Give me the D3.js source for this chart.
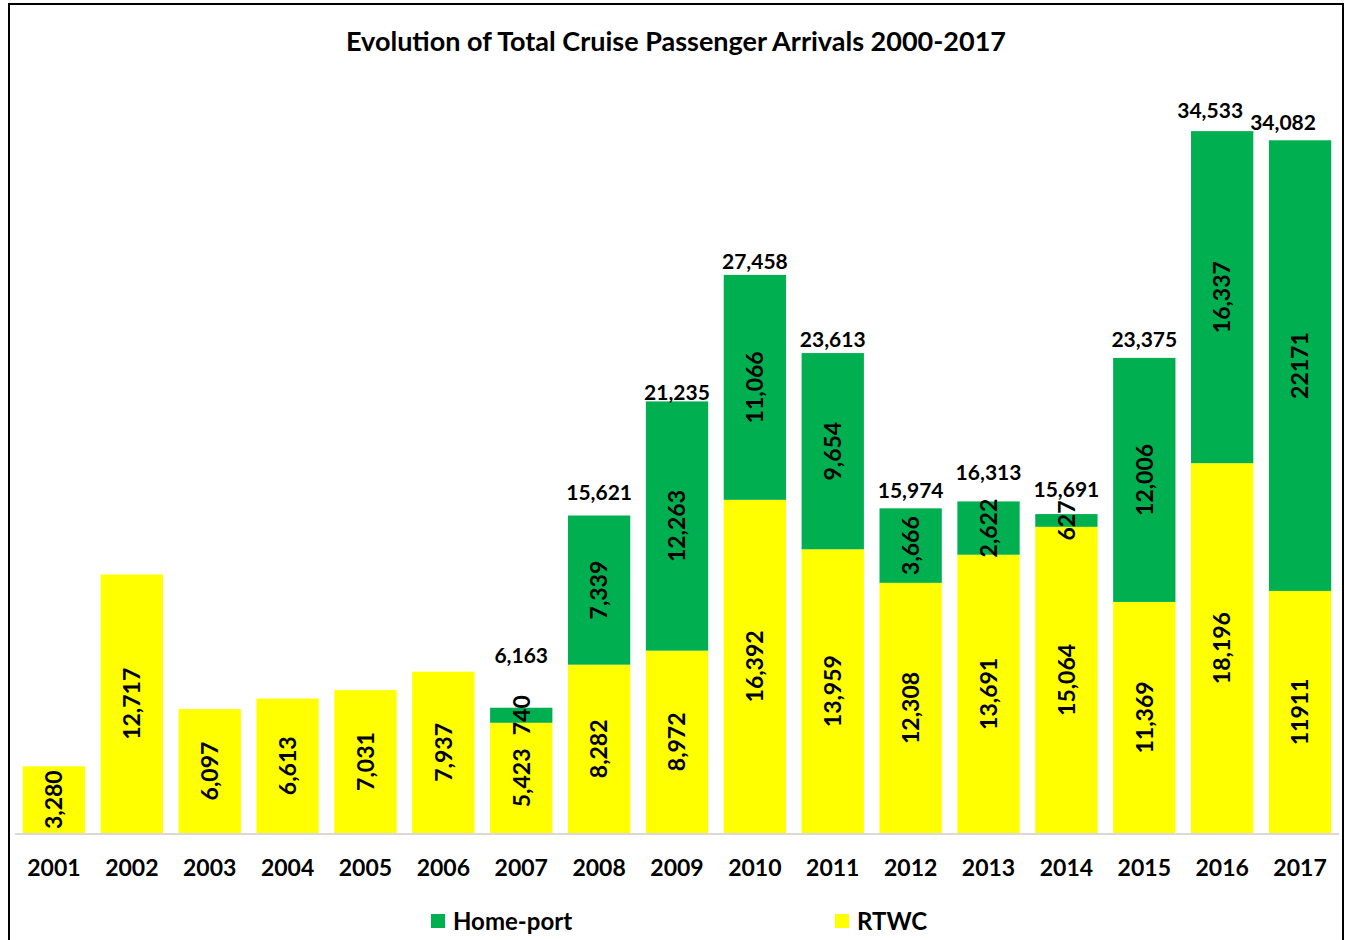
<!DOCTYPE html>
<html>
<head>
<meta charset="utf-8">
<script src="https://cdn.jsdelivr.net/npm/d3@7.9.0/dist/d3.min.js"></script>
<style>
  html, body { margin: 0; padding: 0; background: #fff; }
  svg text { font-family: Lato, "Open Sans", sans-serif; font-weight: bold; fill: #000; }
</style>
</head>
<body>
<svg id="chart" width="1349" height="940"></svg>
<script>
const years = ['2001', '2002', '2003', '2004', '2005', '2006', '2007', '2008', '2009',
  '2010', '2011', '2012', '2013', '2014', '2015', '2016', '2017'];
const rtwc = [3280, 12717, 6097, 6613, 7031, 7937, 5423, 8282, 8972,
  16392, 13959, 12308, 13691, 15064, 11369, 18196, 11911];
const homePort = [0, 0, 0, 0, 0, 0, 740, 7339, 12263,
  11066, 9654, 3666, 2622, 627, 12006, 16337, 22171];
const seriesNames = ['Home-port', 'RTWC'];
// the last year's labels have no thousands separator in the original
const plainYears = ['2017'];

const GREEN = '#00b050';
const YELLOW = '#ffff00';

const svg = d3.select('#chart');
svg.append('rect').attr('width', 1349).attr('height', 940).attr('fill', '#fff');

// outer frame
svg.append('path')
  .attr('d', 'M9,945 V4 H1343 V945')
  .attr('fill', 'none').attr('stroke', '#000').attr('stroke-width', 2);

svg.append('text')
  .attr('x', 676).attr('y', 51)
  .attr('text-anchor', 'middle')
  .style('font-size', '27px')
  .text('Evolution of Total Cruise Passenger Arrivals 2000-2017');

const x = d3.scaleBand().domain(years).range([15, 1339]).paddingInner(0.2).paddingOuter(0.1);
const y = d3.scaleLinear().domain([0, 40000]).range([833, 20]);

const rows = years.map((yr, i) => ({ year: yr, rtwc: rtwc[i], home: homePort[i] }));
const stack = d3.stack().keys(['rtwc', 'home'])(rows);
const colors = { rtwc: YELLOW, home: GREEN };

const fmt = (yr, v) => plainYears.includes(yr) ? String(v) : d3.format(',')(v);

stack.forEach(layer => {
  const g = svg.append('g');
  g.selectAll('rect')
    .data(layer.filter(d => d[1] > d[0]))
    .join('rect')
    .attr('x', d => x(d.data.year))
    .attr('width', x.bandwidth())
    .attr('y', d => y(d[1]))
    .attr('height', d => y(d[0]) - y(d[1]))
    .attr('fill', colors[layer.key]);
});

// axis baseline
svg.append('line')
  .attr('x1', 15).attr('x2', 1339)
  .attr('y1', y(0) + 1).attr('y2', y(0) + 1)
  .attr('stroke', '#d9d9d9').attr('stroke-width', 2);

const xAxis = svg.append('g')
  .attr('transform', `translate(0,${y(0)})`)
  .call(d3.axisBottom(x).tickSize(0).tickPadding(27));
xAxis.select('.domain').remove();
xAxis.selectAll('text')
  .style('font-size', '23px')
  .style('font-family', 'Lato, sans-serif')
  .attr('fill', '#000');

// segment labels, rotated
stack.forEach(layer => {
  svg.append('g').selectAll('text')
    .data(layer.filter(d => d[1] > d[0]))
    .join('text')
    .attr('transform', d => {
      const cx = x(d.data.year) + x.bandwidth() / 2;
      const cy = (y(d[0]) + y(d[1])) / 2;
      return `translate(${cx},${cy}) rotate(-90)`;
    })
    .attr('text-anchor', 'middle')
    .attr('dy', '0.36em')
    .style('font-size', '23px')
    .text(d => fmt(d.data.year, d[1] - d[0]));
});

// totals above stacked bars (manually nudged in the original)
const totalNudge = { '2007': [0, -34], '2008': [0, -5], '2009': [0, 9], '2010': [0, 5],
  '2011': [0, 4], '2013': [0, -11], '2014': [0, -7], '2016': [-12, -3], '2017': [-17, 0] };
svg.append('g').selectAll('text')
  .data(rows.filter(d => d.home > 0))
  .join('text')
  .attr('x', d => x(d.year) + x.bandwidth() / 2 + (totalNudge[d.year] || [0, 0])[0])
  .attr('y', d => y(d.rtwc + d.home) - 18 + (totalNudge[d.year] || [0, 0])[1])
  .attr('text-anchor', 'middle')
  .attr('dy', '0.36em')
  .style('font-size', '21px')
  .text(d => d3.format(',')(d.rtwc + d.home));

// legend
const legendX = [431, 835];
const legendColors = [GREEN, YELLOW];
seriesNames.forEach((name, i) => {
  const g = svg.append('g').attr('transform', `translate(${legendX[i]},914)`);
  g.append('rect').attr('width', 14).attr('height', 14).attr('fill', legendColors[i]);
  g.append('text').attr('x', 22).attr('y', 7).attr('dy', '0.36em')
    .style('font-size', '24px').text(name);
});
</script>
</body>
</html>
